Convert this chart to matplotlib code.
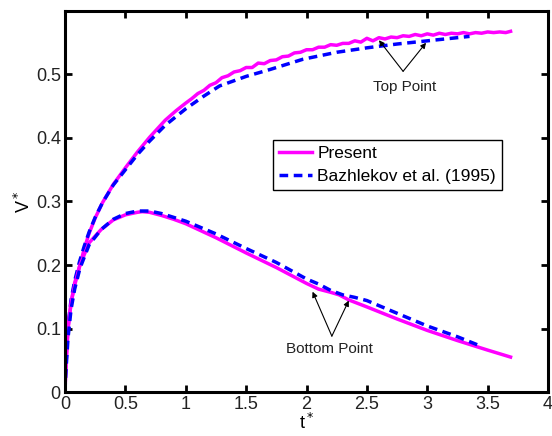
import matplotlib
matplotlib.use('Agg')
import matplotlib.pyplot as plt

plt.rcParams['font.family'] = ['Liberation Sans', 'DejaVu Sans']

# top point of the drop, present simulation
t_top = [0, 0.005, 0.01, 0.025, 0.05, 0.08, 0.124, 0.16, 0.2, 0.25, 0.31, 0.4, 0.5, 0.6, 0.7,
         0.83, 0.92, 1.0, 1.05, 1.10, 1.15, 1.20, 1.25, 1.30, 1.35, 1.40, 1.45, 1.50, 1.55,
         1.60, 1.65, 1.70, 1.75, 1.80, 1.85, 1.90, 1.95, 2.00, 2.05, 2.10, 2.15, 2.20, 2.25,
         2.30, 2.35, 2.40, 2.45, 2.50, 2.55, 2.60, 2.65, 2.70, 2.75, 2.80, 2.85, 2.90, 2.95,
         3.00, 3.05, 3.10, 3.15, 3.20, 3.25, 3.30, 3.35, 3.40, 3.45, 3.50, 3.55, 3.60, 3.65, 3.69]
v_top = [0, 0.03, 0.05, 0.10, 0.14, 0.172, 0.20, 0.226, 0.25, 0.274, 0.298, 0.327, 0.353, 0.378, 0.401,
         0.428, 0.443, 0.455, 0.462, 0.470, 0.475, 0.483, 0.487, 0.495, 0.498, 0.504, 0.506, 0.511, 0.511,
         0.518, 0.517, 0.522, 0.523, 0.528, 0.529, 0.534, 0.535, 0.539, 0.539, 0.543, 0.543, 0.547, 0.546,
         0.549, 0.549, 0.553, 0.551, 0.557, 0.553, 0.558, 0.556, 0.559, 0.558, 0.561, 0.560, 0.563, 0.561,
         0.564, 0.562, 0.565, 0.563, 0.565, 0.564, 0.566, 0.564, 0.566, 0.565, 0.567, 0.566, 0.567, 0.566, 0.568]

# top point, Bazhlekov et al. (1995)
t_top_ref = [0, 0.005, 0.01, 0.025, 0.05, 0.08, 0.12, 0.16, 0.2, 0.25, 0.31, 0.4, 0.5, 0.6, 0.7,
             0.83, 1.0, 1.15, 1.28, 1.5, 1.7, 1.97, 2.25, 2.5, 2.75, 3.0, 3.2, 3.35]
v_top_ref = [0, 0.035, 0.055, 0.105, 0.145, 0.175, 0.205, 0.23, 0.252, 0.275, 0.298, 0.326, 0.35, 0.374, 0.395,
             0.42, 0.446, 0.466, 0.482, 0.497, 0.508, 0.524, 0.535, 0.542, 0.548, 0.553, 0.557, 0.560]

# bottom point, present simulation
t_bot = [0, 0.005, 0.01, 0.025, 0.05, 0.08, 0.124, 0.2, 0.3, 0.4, 0.5, 0.6, 0.64, 0.7, 0.8, 0.9,
         1.0, 1.25, 1.5, 1.75, 2.0, 2.1, 2.2, 2.27, 2.35, 2.5, 2.75, 3.0, 3.25, 3.5, 3.69]
v_bot = [0, 0.03, 0.05, 0.10, 0.14, 0.168, 0.20, 0.235, 0.256, 0.271, 0.279, 0.283, 0.284, 0.283, 0.278, 0.272,
         0.265, 0.243, 0.219, 0.196, 0.171, 0.162, 0.157, 0.153, 0.145, 0.134, 0.115, 0.097, 0.081, 0.066, 0.055]

# bottom point, Bazhlekov et al. (1995)
t_bot_ref = [0, 0.005, 0.01, 0.025, 0.05, 0.08, 0.124, 0.2, 0.3, 0.4, 0.5, 0.6, 0.7, 0.8, 0.9,
             1.0, 1.25, 1.5, 1.75, 2.0, 2.1, 2.2, 2.3, 2.4, 2.5, 2.75, 3.0, 3.25, 3.42]
v_bot_ref = [0, 0.025, 0.04, 0.085, 0.13, 0.162, 0.195, 0.232, 0.256, 0.272, 0.281, 0.285, 0.285, 0.281, 0.275,
             0.269, 0.249, 0.226, 0.204, 0.178, 0.170, 0.160, 0.153, 0.149, 0.144, 0.124, 0.104, 0.087, 0.074]

fig = plt.figure(figsize=(5.52, 4.36), dpi=100)
ax = fig.add_axes([65 / 552, 44 / 436, 483 / 552, 381 / 436])

dash = (0, (2.5, 1.6))
ax.plot(t_top, v_top, color='#ff00ff', lw=2.5, label='Present')
ax.plot(t_top_ref, v_top_ref, color='#0000ff', lw=2.5, ls=dash, label='Bazhlekov et al. (1995)')
ax.plot(t_bot, v_bot, color='#ff00ff', lw=2.5)
ax.plot(t_bot_ref, v_bot_ref, color='#0000ff', lw=2.5, ls=dash)

arrow = dict(arrowstyle='-|>', color='black', lw=0.8, mutation_scale=8, shrinkA=0, shrinkB=0)
ax.annotate('', xy=(2.60, 0.554), xytext=(2.80, 0.505), arrowprops=arrow)
ax.annotate('', xy=(2.99, 0.550), xytext=(2.80, 0.505), arrowprops=arrow)
ax.text(2.81, 0.481, 'Top Point', ha='center', va='center', fontsize=11, color='#222222')
ax.annotate('', xy=(2.05, 0.158), xytext=(2.21, 0.088), arrowprops=arrow)
ax.annotate('', xy=(2.35, 0.144), xytext=(2.21, 0.088), arrowprops=arrow)
ax.text(2.19, 0.068, 'Bottom Point', ha='center', va='center', fontsize=11, color='#222222')

ax.set_xlim(0, 4)
ax.set_ylim(0, 0.6)
ax.set_xticks([0, 0.5, 1, 1.5, 2, 2.5, 3, 3.5, 4])
ax.set_xticklabels(['0', '0.5', '1', '1.5', '2', '2.5', '3', '3.5', '4'])
ax.set_yticks([0, 0.1, 0.2, 0.3, 0.4, 0.5])
ax.set_yticklabels(['0', '0.1', '0.2', '0.3', '0.4', '0.5'])
ax.tick_params(direction='in', length=5, width=2, labelsize=13, top=True, right=True,
               labelcolor='#222222', pad=3)
for sp in ax.spines.values():
    sp.set_linewidth(2.2)

ax.set_xlabel('t$^*$', fontsize=13, labelpad=0)
ax.set_ylabel('V$^*$', fontsize=13, labelpad=1)

leg = ax.legend(loc='upper left', bbox_to_anchor=(0.431, 0.661), borderaxespad=0,
                fancybox=False, edgecolor='black', framealpha=1, fontsize=12.5,
                handlelength=1.9, handletextpad=0.3, borderpad=0.35, labelspacing=0.45)
leg.get_frame().set_linewidth(1.0)

fig.savefig('out.png', dpi=100)
